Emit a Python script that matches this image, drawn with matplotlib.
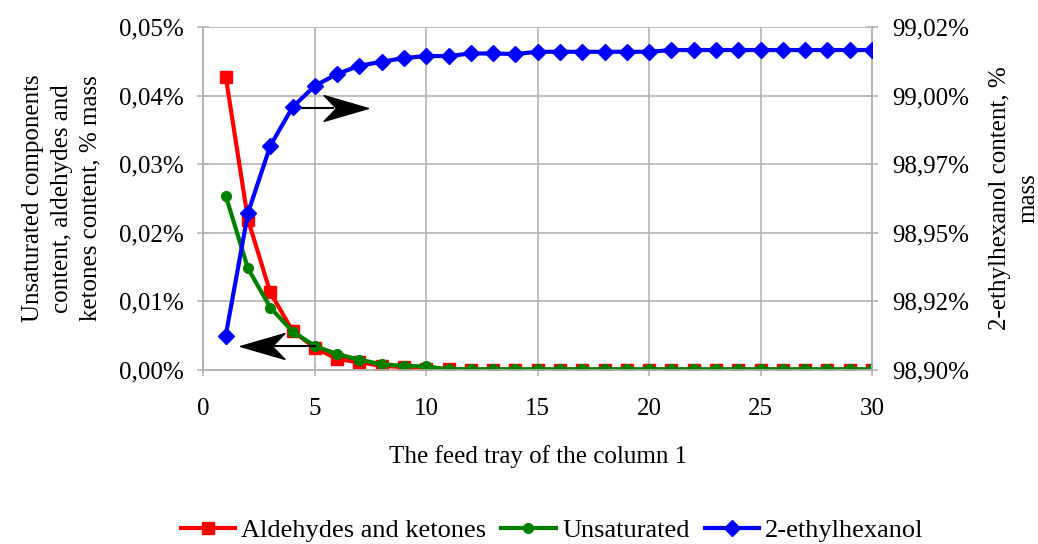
import matplotlib.pyplot as plt
from matplotlib.path import Path
from matplotlib.ticker import FuncFormatter, MultipleLocator

plt.rcParams['font.family'] = ['Liberation Serif', 'DejaVu Serif']

trays = list(range(1, 31))
aldehydes = [0.0428, 0.0219, 0.0113, 0.0057, 0.0032, 0.0016, 0.0011, 0.0006, 0.0004, 0.0001,
             0.0001] + [0.0] * 19
unsaturated = [0.0254, 0.0148, 0.0091, 0.0056, 0.0035, 0.0023, 0.0015, 0.0008, 0.0006, 0.0005,
               0.0001] + [0.0001] * 19
ethylhexanol = [98.912, 98.955, 98.9785, 98.992, 98.9995, 99.0036, 99.0065, 99.0079, 99.0092, 99.0099,
                99.0099, 99.0108, 99.0108, 99.0106, 99.0114, 99.0114, 99.0114, 99.0114, 99.0114, 99.0114,
                99.012, 99.012, 99.012, 99.012, 99.012, 99.012, 99.012, 99.012, 99.012, 99.012]

grid_c = '#b4b4b4'
fs = 18

fig, ax = plt.subplots(figsize=(10.38, 5.44), dpi=100)
fig.subplots_adjust(left=0.196, right=0.840, top=0.950, bottom=0.320)
ax2 = ax.twinx()

l1, = ax.plot(trays, aldehydes, color='red', lw=3, marker='s', ms=8, zorder=3,
              label='Aldehydes and ketones')
l2, = ax.plot(trays, unsaturated, color='green', lw=3, marker='o', ms=7, zorder=4,
              label='Unsaturated')
l3, = ax2.plot(trays, ethylhexanol, color='blue', lw=3, marker='D', ms=8, zorder=3,
               label='2-ethylhexanol')

ax.set_xlim(0, 30)
ax.set_ylim(0, 0.05)
ax2.set_ylim(98.90, 99.02)
ax.xaxis.set_major_locator(MultipleLocator(5))
ax.yaxis.set_major_locator(MultipleLocator(0.01))
ax2.set_yticks([98.90 + i * 0.024 for i in range(6)])

pct = lambda v, p: ('%.2f%%' % v).replace('.', ',')
ax.yaxis.set_major_formatter(FuncFormatter(pct))
ax2.yaxis.set_major_formatter(FuncFormatter(pct))

ax.grid(True, color=grid_c, lw=1.2)
for a in (ax, ax2):
    for s in a.spines.values():
        s.set_color(grid_c)
        s.set_linewidth(1.2)
    a.tick_params(colors='black', labelsize=fs, length=9, direction='inout',
                  color=grid_c, width=1.2, pad=10)
ax.tick_params(axis='x', pad=16)
ax.spines['top'].set_visible(False)
ax2.spines['top'].set_visible(False)

ax.set_xlabel('The feed tray of the column 1', fontsize=fs, labelpad=18)
ax.set_ylabel('Unsaturated components\ncontent, aldehydes and\nketones content, % mass',
              fontsize=fs, labelpad=12, linespacing=1.4)
ax2.set_ylabel('2-ethylhexanol content, %\nmass', fontsize=fs, labelpad=14, linespacing=1.4)

# stealth-like arrow heads
head_r = Path([(0, 0), (-1, 0.29), (-0.72, 0), (-1, -0.29), (0, 0)],
              [Path.MOVETO, Path.LINETO, Path.LINETO, Path.LINETO, Path.CLOSEPOLY])
head_l = Path([(0, 0), (1, 0.29), (0.72, 0), (1, -0.29), (0, 0)],
              [Path.MOVETO, Path.LINETO, Path.LINETO, Path.LINETO, Path.CLOSEPOLY])
ax.plot([4, 5.8], [0.0382, 0.0382], color='black', lw=1.5, zorder=5)
ax.plot([7.4], [0.0382], marker=head_r, ms=64, color='black', zorder=5)
ax.plot([5, 3.2], [0.0035, 0.0035], color='black', lw=1.5, zorder=5)
ax.plot([1.66], [0.0035], marker=head_l, ms=64, color='black', zorder=5)

fig.legend(handles=[l1, l2, l3], loc='lower center', bbox_to_anchor=(0.532, -0.04), ncol=3,
           frameon=False, fontsize=19, handlelength=2.05, columnspacing=0.57, handletextpad=0.25,
           markerscale=1.0)

fig.savefig('out.png', dpi=100)
